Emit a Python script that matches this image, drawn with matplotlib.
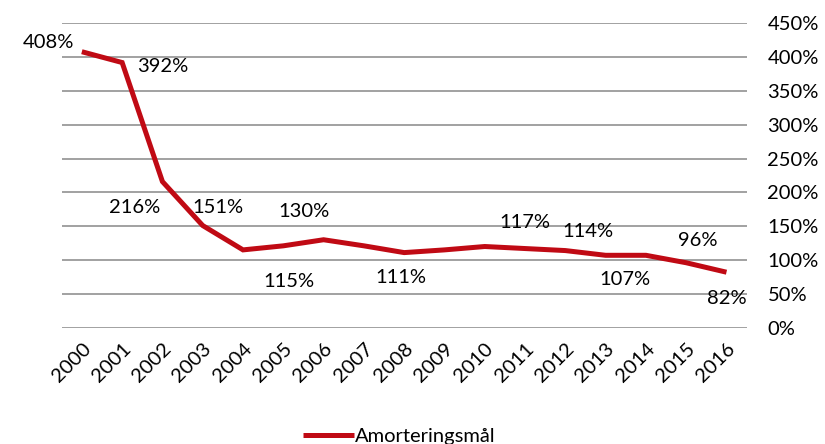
import numpy as np
import matplotlib
matplotlib.use("Agg")
import matplotlib.pyplot as plt

plt.rcParams['font.family'] = ['Lato', 'DejaVu Sans']

years = [str(y) for y in range(2000, 2017)]
amort = [408, 392, 216, 151, 115, 121, 130, 121, 111, 115, 120, 117, 114, 107, 107, 96, 82]

# which points carry a data label, and the label text
label_idx = [0, 1, 2, 3, 4, 6, 8, 11, 12, 13, 15, 16]
label_txt = ['408%', '392%', '216%', '151%', '115%', '130%', '111%',
             '117%', '114%', '107%', '96%', '82%']
# label offsets from the point in pixels (dx, dy), y up
label_off = [(-33, 9), (41, -4), (-28, -26), (15, 18), (46, -32), (-20, 28),
             (-3, -25), (0, 26), (23, 19), (19, -24), (12, 22), (0, -26)]

red = '#C00A14'
grid_col = '#9A9A9A'
fs = 14.5

fig = plt.figure(figsize=(8.25, 4.44), dpi=100)
ax = fig.add_axes([0.0748, 0.262, 0.8302, 0.6855])

x = np.arange(len(years))
line, = ax.plot(x, amort, color=red, lw=3.6, solid_joinstyle='miter',
                solid_capstyle='butt', label='Amorteringsmål', zorder=3)

for i, t, (dx, dy) in zip(label_idx, label_txt, label_off):
    ax.annotate(t, (x[i], amort[i]), xytext=(dx, dy), textcoords='offset pixels',
                ha='center', va='center', fontsize=fs, color='black', zorder=4)

ax.set_xlim(-0.5, len(years) - 0.5)
ax.set_ylim(0, 450)
yt = np.arange(0, 451, 50)
ax.set_yticks(yt)
ax.set_yticklabels([f'{v}%' for v in yt], fontsize=fs)
ax.yaxis.tick_right()
ax.tick_params(axis='y', length=0, pad=15)
ax.set_xticks(x)
ax.set_xticklabels(years, rotation=45, ha='right', va='top',
                   rotation_mode='anchor', fontsize=fs)
ax.tick_params(axis='x', length=0, pad=9)
ax.grid(axis='y', color=grid_col, lw=1.3)
ax.set_axisbelow(True)
for s in ax.spines.values():
    s.set_visible(False)

fig.legend(handles=[line], loc='center', bbox_to_anchor=(0.484, 0.018),
           frameon=False, fontsize=fs, handlelength=2.5, handletextpad=0.05)

fig.savefig('out.png', dpi=100)
